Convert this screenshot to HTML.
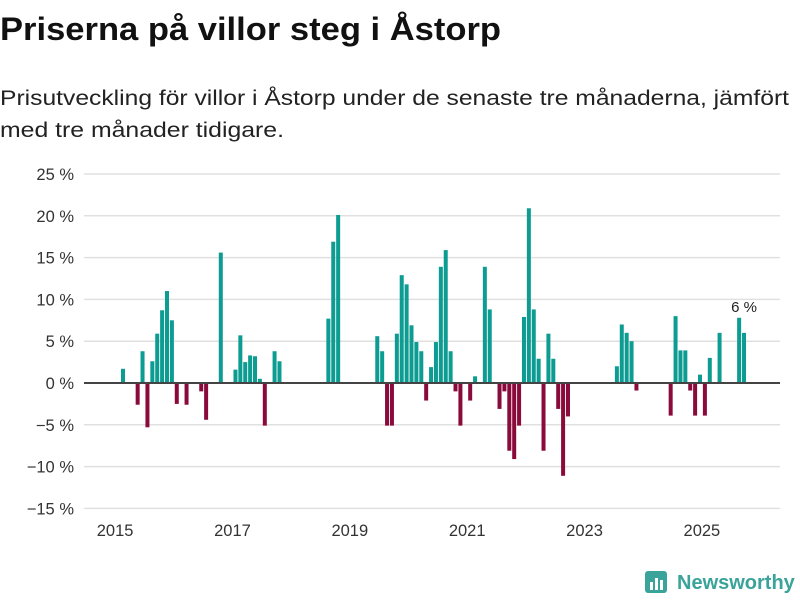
<!DOCTYPE html>
<html><head><meta charset="utf-8">
<style>
body{margin:0;background:#fff;width:800px;height:600px;overflow:hidden;font-family:"Liberation Sans",sans-serif;}
</style></head>
<body>
<svg width="800" height="600">
<text x="0" y="40" font-size="32" font-weight="bold" fill="#111" textLength="501" lengthAdjust="spacingAndGlyphs">Priserna på villor steg i Åstorp</text>
<text x="0" y="105" font-size="21" fill="#222" textLength="789" lengthAdjust="spacingAndGlyphs">Prisutveckling för villor i Åstorp under de senaste tre månaderna, jämfört</text>
<text x="0" y="137" font-size="21" fill="#222" textLength="284" lengthAdjust="spacingAndGlyphs">med tre månader tidigare.</text>
<g id="grid"></g><g id="bars"></g><g id="axes"></g>
<g>
<rect x="645" y="571" width="22" height="22" rx="3" fill="#3aa39a"/>
<rect x="650" y="582" width="3" height="8" fill="#fff"/>
<rect x="655" y="578" width="3" height="12" fill="#fff"/>
<rect x="660" y="580" width="3" height="10" fill="#fff"/>
<text x="677" y="589" font-size="20" font-weight="bold" fill="#3aa39a">Newsworthy</text>
</g>
</svg>
<script>
const idx=[1,4,5,6,7,8,9,10,11,12,14,17,18,21,24,25,26,27,28,29,30,32,33,43,44,45,53,54,55,56,57,58,59,60,61,62,63,64,65,66,67,68,69,70,72,73,75,76,78,79,80,81,82,83,84,85,86,87,88,89,90,91,92,102,103,104,105,106,113,114,115,116,117,118,119,120,121,123,127,128];
const vals=[1.7,-2.6,3.8,-5.3,2.6,5.9,8.7,11.0,7.5,-2.5,-2.6,-1.0,-4.4,15.6,1.6,5.7,2.5,3.3,3.2,0.5,-5.1,3.8,2.6,7.7,16.9,20.1,5.6,3.8,-5.1,-5.1,5.9,12.9,11.8,6.9,4.9,3.8,-2.1,1.9,4.9,13.9,15.9,3.8,-1.0,-5.1,-2.1,0.8,13.9,8.8,-3.1,-1.0,-8.1,-9.1,-5.1,7.9,20.9,8.8,2.9,-8.1,5.9,2.9,-3.1,-11.1,-4.0,2.0,7.0,6.0,5.0,-0.9,-3.9,8.0,3.9,3.9,-0.9,-3.9,1.0,-3.9,3.0,6.0,7.8,6.0];
const yTicks=[25,20,15,10,5,0,-5,-10,-15];
const xYears=[2015,2017,2019,2021,2023,2025];
const NS="http://www.w3.org/2000/svg";
function xS(i){return 116.1+i*4.89;}
function yS(v){return 383-v*8.36;}
function mk(t,a,p){const e=document.createElementNS(NS,t);for(const k in a)e.setAttribute(k,a[k]);p.appendChild(e);return e;}
const g=document.getElementById('grid'),b=document.getElementById('bars'),ax=document.getElementById('axes');
yTicks.forEach(v=>{
 const l=mk('line',{x1:84,x2:780,y1:yS(v),y2:yS(v),stroke:'#e0e0e0','stroke-width':1.5},g);
 
 
 const t=mk('text',{x:74,y:yS(v)+6,'text-anchor':'end','font-size':16.5,fill:'#333'},ax);
 t.textContent=(v<0?'−'+(-v):v)+' %';
 
 
});
idx.forEach((i,k)=>{
 const v=vals[k];
 const r=mk('rect',{x:xS(i),width:4,y:Math.min(yS(v),yS(0)),height:Math.abs(yS(v)-yS(0)),fill:v>=0?'#0c9c92':'#8a0a3c'},b);
 
 
});
const z=mk('line',{x1:84,x2:780,y1:yS(0),y2:yS(0),stroke:'#444','stroke-width':2},ax);


xYears.forEach(yr=>{
 const t=mk('text',{x:xS((yr-2015)*12)-1,y:536,'text-anchor':'middle','font-size':16.5,fill:'#333'},ax);
 t.textContent=yr;
 
 
});
const li=idx.length-1;
const lab=mk('text',{x:xS(idx[li])+2,y:yS(Math.max(vals[li],vals[li-1]))-6,'text-anchor':'middle','font-size':15,fill:'#222'},ax);
lab.textContent=Math.round(vals[li])+' %';


</script>
</body></html>
